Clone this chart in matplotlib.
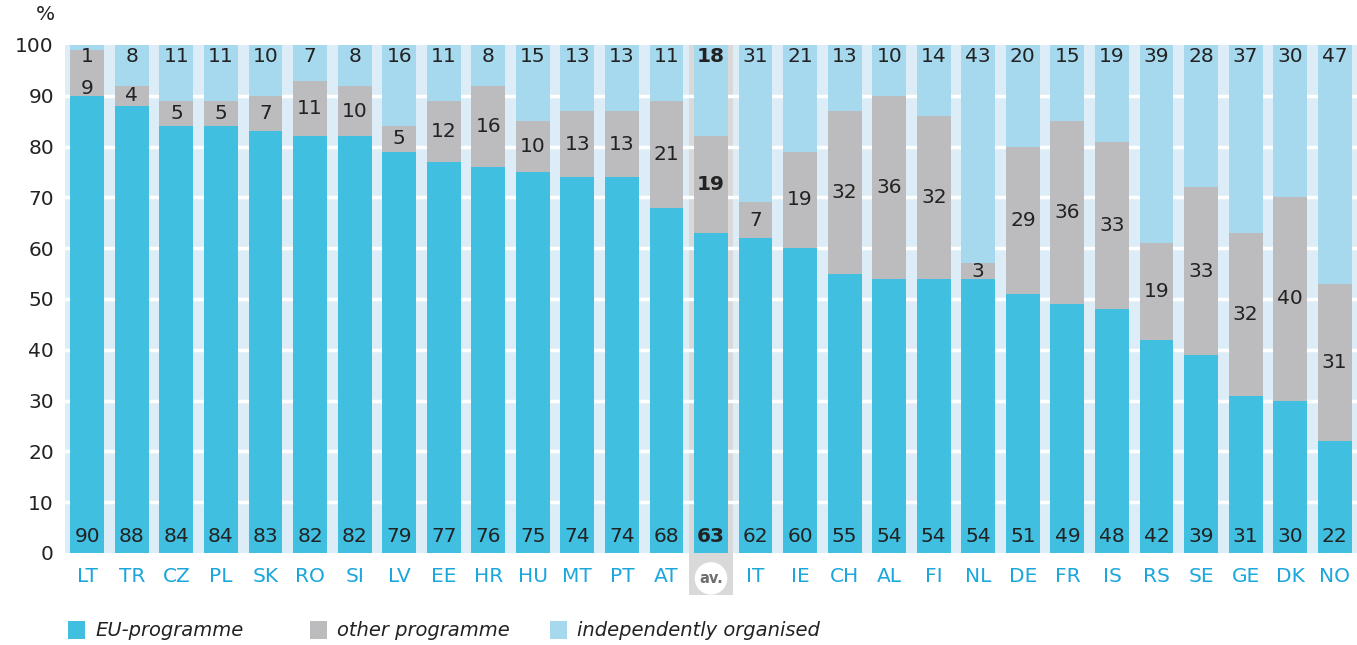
import matplotlib
matplotlib.use("Agg")
import matplotlib.pyplot as plt
from matplotlib.patches import Rectangle
import numpy as np

countries = ["LT", "TR", "CZ", "PL", "SK", "RO", "SI", "LV", "EE", "HR", "HU", "MT", "PT", "AT",
             "av.", "IT", "IE", "CH", "AL", "FI", "NL", "DE", "FR", "IS", "RS", "SE", "GE", "DK", "NO"]
eu_programme = [90, 88, 84, 84, 83, 82, 82, 79, 77, 76, 75, 74, 74, 68,
                63, 62, 60, 55, 54, 54, 54, 51, 49, 48, 42, 39, 31, 30, 22]
other_programme = [9, 4, 5, 5, 7, 11, 10, 5, 12, 16, 10, 13, 13, 21,
                   19, 7, 19, 32, 36, 32, 3, 29, 36, 33, 19, 33, 32, 40, 31]
independent = [1, 8, 11, 11, 10, 7, 8, 16, 11, 8, 15, 13, 13, 11,
               18, 31, 21, 13, 10, 14, 43, 20, 15, 19, 39, 28, 37, 30, 47]

C_EU = "#40bfe1"
C_OTHER = "#bcbcbe"
C_IND = "#a6d9ee"
C_BG = "#dcedf7"
C_AV = "#d9d9d9"
C_TICK = "#1ba6dc"
C_TXT = "#222222"

fig = plt.figure(figsize=(13.57, 6.45), dpi=100)
ax = fig.add_axes([65/1357, 1-553/645, (1357-65)/1357, (553-45)/645])
ax.set_facecolor(C_BG)

n = len(countries)
x = np.arange(n)
av_idx = countries.index("av.")

ax.set_xlim(-0.5, n - 0.5)
ax.set_ylim(0, 100)

# av. column background
ax.add_patch(Rectangle((av_idx - 0.5, -8.3), 1.0, 108.3, facecolor=C_AV, edgecolor="none",
                       zorder=0.5, clip_on=False))

# grid
for yv in range(10, 100, 10):
    ax.axhline(yv, color="white", lw=2.5, zorder=1)

w = 0.76
eu = np.array(eu_programme)
ot = np.array(other_programme)
ind = np.array(independent)
ax.bar(x, eu, width=w, color=C_EU, zorder=2)
ax.bar(x, ot, width=w, bottom=eu, color=C_OTHER, zorder=2)
ax.bar(x, ind, width=w, bottom=eu + ot, color=C_IND, zorder=2)

fs = 14.5
for i in range(n):
    fw = "bold" if i == av_idx else "normal"
    ax.text(x[i], 3.2, str(eu[i]), ha="center", va="center", fontsize=fs, color=C_TXT,
            fontweight=fw, zorder=3)
    oy = eu[i] + ot[i] / 2
    if i == 0:
        oy = 91.5
    ax.text(x[i], oy, str(ot[i]), ha="center", va="center", fontsize=fs, color=C_TXT,
            fontweight=fw, zorder=3)
    ax.text(x[i], 97.8, str(ind[i]), ha="center", va="center", fontsize=fs, color=C_TXT,
            fontweight=fw, zorder=3)

ax.set_yticks(range(0, 101, 10))
ax.set_yticklabels([str(v) for v in range(0, 101, 10)], fontsize=fs, color=C_TXT)
ax.set_xticks(x)
labels = [c if c != "av." else "" for c in countries]
ax.set_xticklabels(labels, fontsize=fs, color=C_TICK)
ax.tick_params(axis="both", length=0)
ax.tick_params(axis="x", pad=10)
ax.tick_params(axis="y", pad=8)
for s in ax.spines.values():
    s.set_visible(False)

ax.text(av_idx, -5, "av.", ha="center", va="center", fontsize=10.5, color="#6f6f6f",
        fontweight="bold",
        bbox=dict(boxstyle="circle,pad=0.3", fc="white", ec="none"), clip_on=False, zorder=3)

fig.text(45/1357, 1-15/645, "%", ha="center", va="center", fontsize=fs, color=C_TXT)

# legend
leg = [("EU-programme", C_EU, 68), ("other programme", C_OTHER, 310), ("independently organised", C_IND, 550)]
for lab, col, px in leg:
    fig.add_artist(Rectangle((px/1357, 1-639/645), 17/1357, 18/645, facecolor=col,
                             edgecolor="none", transform=fig.transFigure))
    fig.text((px+27)/1357, 1-630/645, lab, ha="left", va="center", fontsize=14,
             style="italic", color=C_TXT)

fig.savefig("out.png", dpi=100)
